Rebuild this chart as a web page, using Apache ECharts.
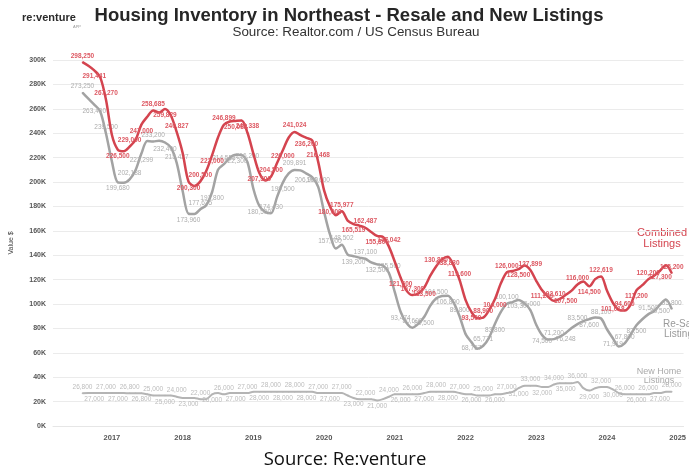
<!DOCTYPE html>
<html>
<head>
<meta charset="utf-8">
<script src="https://cdn.jsdelivr.net/npm/echarts@6/dist/echarts.min.js"></script>
<style>
  html, body { margin: 0; padding: 0; background: #ffffff; }
  #chart { width: 689px; height: 474px; }
</style>
</head>
<body>
<div id="chart"></div>
<script>
// Monthly active listings in the Northeast, Aug 2016 – Dec 2024
const combined = [
  298250, 295246, 291441, 285936, 267270, 238500, 226500, 225200, 229000, 234500,
  247000, 253530, 258685, 256900, 259829, 254493, 240827, 223815, 200300, 196800,
  200500, 209000, 222000, 236500, 246899, 249593, 250088, 250470, 240338, 223200,
  207500, 201300, 204500, 215417, 226000, 236500, 241024, 238338, 236200, 233962,
  216468, 193138, 180000, 172782, 175977, 168400, 165519, 164200, 162487, 159024,
  155800, 154987, 147042, 134666, 121500, 111000, 107300, 108600, 113500, 123000,
  130800, 136554, 138830, 131500, 119600, 103400, 93500, 88400, 88900, 94924,
  104000, 117000, 126000, 127000, 128500, 131561, 127899, 119029, 111200, 106000,
  102610, 104249, 107500, 111000, 116000, 118400, 114500, 120400, 122619, 111000,
  101018, 95233, 94600, 99319, 111200, 115409, 120200, 123207, 127300, 131782,
  125200
];
const resale = [
  273250, 268245, 263400, 258039, 239500, 216736, 199680, 199400, 202188, 209600,
  223299, 233530, 233200, 233800, 232400, 228300, 215427, 192639, 173960, 173764,
  177625, 181000, 191800, 210000, 214553, 219800, 222300, 222200, 216200, 194500,
  180500, 175549, 174430, 187412, 199500, 207000, 209891, 209500, 206900, 203800,
  196000, 175500, 157000, 145411, 148502, 140490, 139200, 138000, 137100, 134024,
  132500, 131600, 125500, 109666, 93474, 84449, 80600, 83800, 89500, 98500,
  104500, 106500, 106800, 101000, 89800, 75500, 68757, 63293, 65771, 72500,
  83800, 93487, 100100, 101561, 103301, 100500, 95000, 83000, 74500, 70910,
  71200, 73249, 76248, 80300, 83500, 86000, 87600, 89022, 88100, 79296,
  71919, 65233, 67800, 74800, 82500, 87500, 91500, 94200, 99500, 103782,
  95800
];
const newHome = [
  26800, 27000, 27000, 27000, 27000, 27000, 27000, 27000, 26800, 26800,
  26800, 26000, 25000, 25000, 25000, 25000, 24000, 23000, 23000, 23000,
  22000, 22000, 26000, 27000, 26000, 27000, 27000, 27000, 27000, 28000,
  28000, 28000, 28000, 28000, 28000, 28000, 28000, 28000, 28000, 28000,
  27000, 27000, 27000, 27000, 27000, 25000, 23000, 22000, 22000, 22000,
  21000, 22000, 24000, 26000, 26000, 26000, 26000, 26000, 27000, 28000,
  28000, 28000, 28000, 28000, 27000, 26000, 26000, 25000, 25000, 25000,
  26000, 26000, 27000, 28000, 31000, 33000, 33000, 33000, 32000, 32000,
  34000, 35000, 35000, 35000, 36000, 31000, 29000, 31000, 32000, 32000,
  30000, 27000, 26000, 26000, 26000, 26000, 26000, 27000, 27000, 28000,
  28000
];
const seriesNames = ['New Home Listings', 'Re-Sale Listings', 'Combined Listings'];

// Month categories from Mar 2016 through Feb 2025; the series start in Aug 2016
const months = [];
for (let y = 2016, m = 3; y < 2025 || m <= 2; ) {
  months.push(y + '-' + String(m).padStart(2, '0'));
  m++;
  if (m > 12) { m = 1; y++; }
}
const firstDataIndex = months.indexOf('2016-08');
const dataMonths = months.slice(firstDataIndex, firstDataIndex + combined.length);

const fmt = v => v.toLocaleString('en-US');

// Every other point carries a value label, alternating above and below the line
function points(values) {
  return values.map((v, i) => {
    const item = { value: [dataMonths[i], v] };
    if (i % 2 === 0) {
      item.label = { show: true, position: (i / 2) % 2 === 0 ? 'top' : 'bottom' };
    }
    return item;
  });
}

function lineSeries(name, values, color, labelColor, width, z, bold) {
  return {
    name: name,
    type: 'line',
    data: points(values),
    smooth: 0.3,
    showSymbol: true,
    showAllSymbol: true,
    symbol: 'circle',
    symbolSize: 1.5,
    z: z,
    lineStyle: { color: color, width: width },
    itemStyle: { color: color },
    label: {
      show: false,
      formatter: p => fmt(p.value[1]),
      color: labelColor,
      fontSize: 6.5,
      fontWeight: bold ? 'bold' : 'normal',
      fontFamily: 'Liberation Sans, Arial, sans-serif',
      distance: 2
    },
    emphasis: { disabled: true }
  };
}

const chart = echarts.init(document.getElementById('chart'), null, { renderer: 'canvas' });

chart.setOption({
  animation: false,
  backgroundColor: '#ffffff',
  grid: { left: 51, right: 3, top: 60, bottom: 48, containLabel: false },
  xAxis: {
    type: 'category',
    data: months,
    boundaryGap: false,
    axisLine: { show: true, lineStyle: { color: '#e6e6e6', width: 1 } },
    axisTick: { show: false },
    splitLine: { show: false },
    axisLabel: {
      interval: (i, v) => v.endsWith('-01'),
      formatter: v => v.slice(0, 4),
      color: '#555555',
      fontSize: 7.5,
      fontWeight: 'bold',
      fontFamily: 'Liberation Sans, Arial, sans-serif',
      margin: 8
    }
  },
  yAxis: {
    type: 'value',
    min: 0,
    max: 300000,
    interval: 20000,
    name: 'Value $',
    nameLocation: 'middle',
    nameGap: 38,
    nameRotate: 90,
    nameTextStyle: { color: '#444444', fontSize: 7, fontFamily: 'Liberation Sans, Arial, sans-serif' },
    axisLine: { show: false },
    axisTick: { show: false },
    splitLine: { show: true, lineStyle: { color: '#ebebeb', width: 1 } },
    axisLabel: {
      formatter: v => (v / 1000) + 'K',
      color: '#555555',
      fontSize: 7,
      fontWeight: 'bold',
      fontFamily: 'Liberation Sans, Arial, sans-serif',
      margin: 7
    }
  },
  series: [
    lineSeries(seriesNames[0], newHome, '#b4b4b4', '#bcbcbc', 2, 2, false),
    lineSeries(seriesNames[1], resale, '#a3a3a3', '#adadad', 2.5, 3, false),
    lineSeries(seriesNames[2], combined, '#d4444f', '#dd5862', 2.5, 4, true)
  ],
  graphic: [
    { type: 'text', x: 22, y: 12,
      style: { text: 're:venture', font: 'bold 11px "Liberation Sans", Arial, sans-serif', fill: '#2b2b2b' } },
    { type: 'text', x: 73, y: 25,
      style: { text: 'APP', font: '4px "Liberation Sans", Arial, sans-serif', fill: '#999999' } },
    { type: 'text', x: 349, y: 16,
      style: { text: 'Housing Inventory in Northeast - Resale and New Listings',
               font: 'bold 18.5px "Liberation Sans", Arial, sans-serif', fill: '#262626',
               align: 'center', verticalAlign: 'middle', textAlign: 'center', textVerticalAlign: 'middle' } },
    { type: 'text', x: 356, y: 32,
      style: { text: 'Source: Realtor.com / US Census Bureau',
               font: '13.4px "Liberation Sans", Arial, sans-serif', fill: '#333333',
               align: 'center', verticalAlign: 'middle', textAlign: 'center', textVerticalAlign: 'middle' } },
    { type: 'text', x: 662, y: 238,
      style: { text: 'Combined\nListings', font: '11px "Liberation Sans", Arial, sans-serif', fill: '#d4444f',
               lineHeight: 11, align: 'center', verticalAlign: 'middle', textAlign: 'center', textVerticalAlign: 'middle' } },
    { type: 'text', x: 681, y: 329,
      style: { text: 'Re-Sale\nListings', font: '10px "Liberation Sans", Arial, sans-serif', fill: '#9a9a9a',
               lineHeight: 10, align: 'center', verticalAlign: 'middle', textAlign: 'center', textVerticalAlign: 'middle' } },
    { type: 'text', x: 659, y: 376,
      style: { text: 'New Home\nListings', font: '9px "Liberation Sans", Arial, sans-serif', fill: '#aaaaaa',
               lineHeight: 9, align: 'center', verticalAlign: 'middle', textAlign: 'center', textVerticalAlign: 'middle' } },
    { type: 'text', x: 345, y: 460,
      style: { text: 'Source: Re:venture', font: '18.5px "Open Sans", "Noto Sans", sans-serif', fill: '#111111',
               align: 'center', verticalAlign: 'middle', textAlign: 'center', textVerticalAlign: 'middle' } }
  ]
});
</script>
</body>
</html>
